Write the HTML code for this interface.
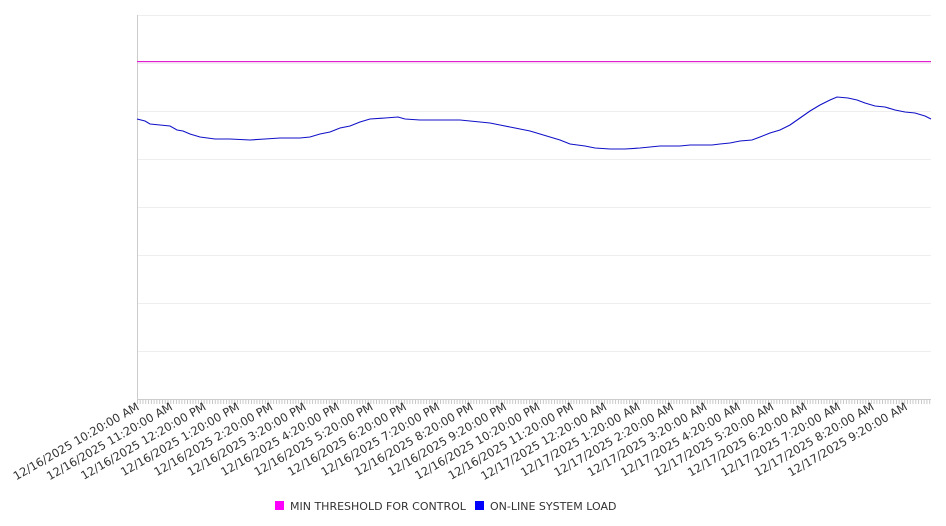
<!DOCTYPE html>
<html><head><meta charset="utf-8"><style>
body{margin:0;background:#fff;width:946px;height:526px;overflow:hidden}
svg{display:block}
text{font-family:"DejaVu Sans","Liberation Sans",sans-serif;fill:#333}
</style></head><body>
<svg width="946" height="526" viewBox="0 0 946 526">
<defs><pattern id="mt" x="137" y="0" width="2.78" height="10" patternUnits="userSpaceOnUse"><rect x="0" y="0" width="0.8" height="10" fill="#bbb"/></pattern></defs>
<g stroke="#eee" stroke-width="1">
<line x1="137" y1="15.5" x2="931" y2="15.5"/><line x1="137" y1="63.5" x2="931" y2="63.5"/>
<line x1="137" y1="111.5" x2="931" y2="111.5"/><line x1="137" y1="159.5" x2="931" y2="159.5"/>
<line x1="137" y1="207.5" x2="931" y2="207.5"/><line x1="137" y1="255.5" x2="931" y2="255.5"/>
<line x1="137" y1="303.5" x2="931" y2="303.5"/><line x1="137" y1="351.5" x2="931" y2="351.5"/>
</g>
<line x1="137.5" y1="15" x2="137.5" y2="400" stroke="#ccc"/>
<line x1="137" y1="399.5" x2="931" y2="399.5" stroke="#ccc"/>
<rect x="137" y="400" width="794" height="4" fill="url(#mt)"/>
<rect x="137" y="61" width="794" height="1.2" fill="#e020d0"/>
<polyline fill="none" stroke="#1010c8" stroke-width="1.1" points="137,119 145,121 150,124 160,125 170,126 177,130 183,131 190,134 200,137 215,139 230,139 250,140 265,139 280,138 300,138 310,137 320,134 330,132 340,128 350,126 360,122 370,119 385,118 398,117 405,119 420,120 440,120 460,120 470,121 480,122 490,123 500,125 510,127 520,129 530,131 540,134 550,137 560,140 570,144 585,146 595,148 610,149 625,149 640,148 650,147 660,146 670,146 680,146 690,145 700,145 712,145 720,144 730,143 740,141 752,140 760,137 770,133 780,130 790,125 800,118 810,111 820,105 830,100 837,97 848,98 857,100 865,103 875,106 885,107 895,110 905,112 915,113 925,116 931,119"/>
<g font-size="11.5">
<text transform="translate(140,409) rotate(-30)" text-anchor="end">12/16/2025 10:20:00 AM</text>
<text transform="translate(173.4,409) rotate(-30)" text-anchor="end">12/16/2025 11:20:00 AM</text>
<text transform="translate(206.8,409) rotate(-30)" text-anchor="end">12/16/2025 12:20:00 PM</text>
<text transform="translate(240.2,409) rotate(-30)" text-anchor="end">12/16/2025 1:20:00 PM</text>
<text transform="translate(273.6,409) rotate(-30)" text-anchor="end">12/16/2025 2:20:00 PM</text>
<text transform="translate(307,409) rotate(-30)" text-anchor="end">12/16/2025 3:20:00 PM</text>
<text transform="translate(340.4,409) rotate(-30)" text-anchor="end">12/16/2025 4:20:00 PM</text>
<text transform="translate(373.8,409) rotate(-30)" text-anchor="end">12/16/2025 5:20:00 PM</text>
<text transform="translate(407.2,409) rotate(-30)" text-anchor="end">12/16/2025 6:20:00 PM</text>
<text transform="translate(440.6,409) rotate(-30)" text-anchor="end">12/16/2025 7:20:00 PM</text>
<text transform="translate(474,409) rotate(-30)" text-anchor="end">12/16/2025 8:20:00 PM</text>
<text transform="translate(507.4,409) rotate(-30)" text-anchor="end">12/16/2025 9:20:00 PM</text>
<text transform="translate(540.8,409) rotate(-30)" text-anchor="end">12/16/2025 10:20:00 PM</text>
<text transform="translate(574.2,409) rotate(-30)" text-anchor="end">12/16/2025 11:20:00 PM</text>
<text transform="translate(607.6,409) rotate(-30)" text-anchor="end">12/17/2025 12:20:00 AM</text>
<text transform="translate(641,409) rotate(-30)" text-anchor="end">12/17/2025 1:20:00 AM</text>
<text transform="translate(674.4,409) rotate(-30)" text-anchor="end">12/17/2025 2:20:00 AM</text>
<text transform="translate(707.8,409) rotate(-30)" text-anchor="end">12/17/2025 3:20:00 AM</text>
<text transform="translate(741.2,409) rotate(-30)" text-anchor="end">12/17/2025 4:20:00 AM</text>
<text transform="translate(774.6,409) rotate(-30)" text-anchor="end">12/17/2025 5:20:00 AM</text>
<text transform="translate(808,409) rotate(-30)" text-anchor="end">12/17/2025 6:20:00 AM</text>
<text transform="translate(841.4,409) rotate(-30)" text-anchor="end">12/17/2025 7:20:00 AM</text>
<text transform="translate(874.8,409) rotate(-30)" text-anchor="end">12/17/2025 8:20:00 AM</text>
<text transform="translate(908.2,409) rotate(-30)" text-anchor="end">12/17/2025 9:20:00 AM</text>
</g>
<rect x="275" y="501" width="9" height="9" fill="#ff00ff"/>
<text x="290" y="510" font-size="11">MIN THRESHOLD FOR CONTROL</text>
<rect x="475" y="501" width="9" height="9" fill="#0000ff"/>
<text x="490" y="510" font-size="11">ON-LINE SYSTEM LOAD</text>
</svg>
</body></html>
